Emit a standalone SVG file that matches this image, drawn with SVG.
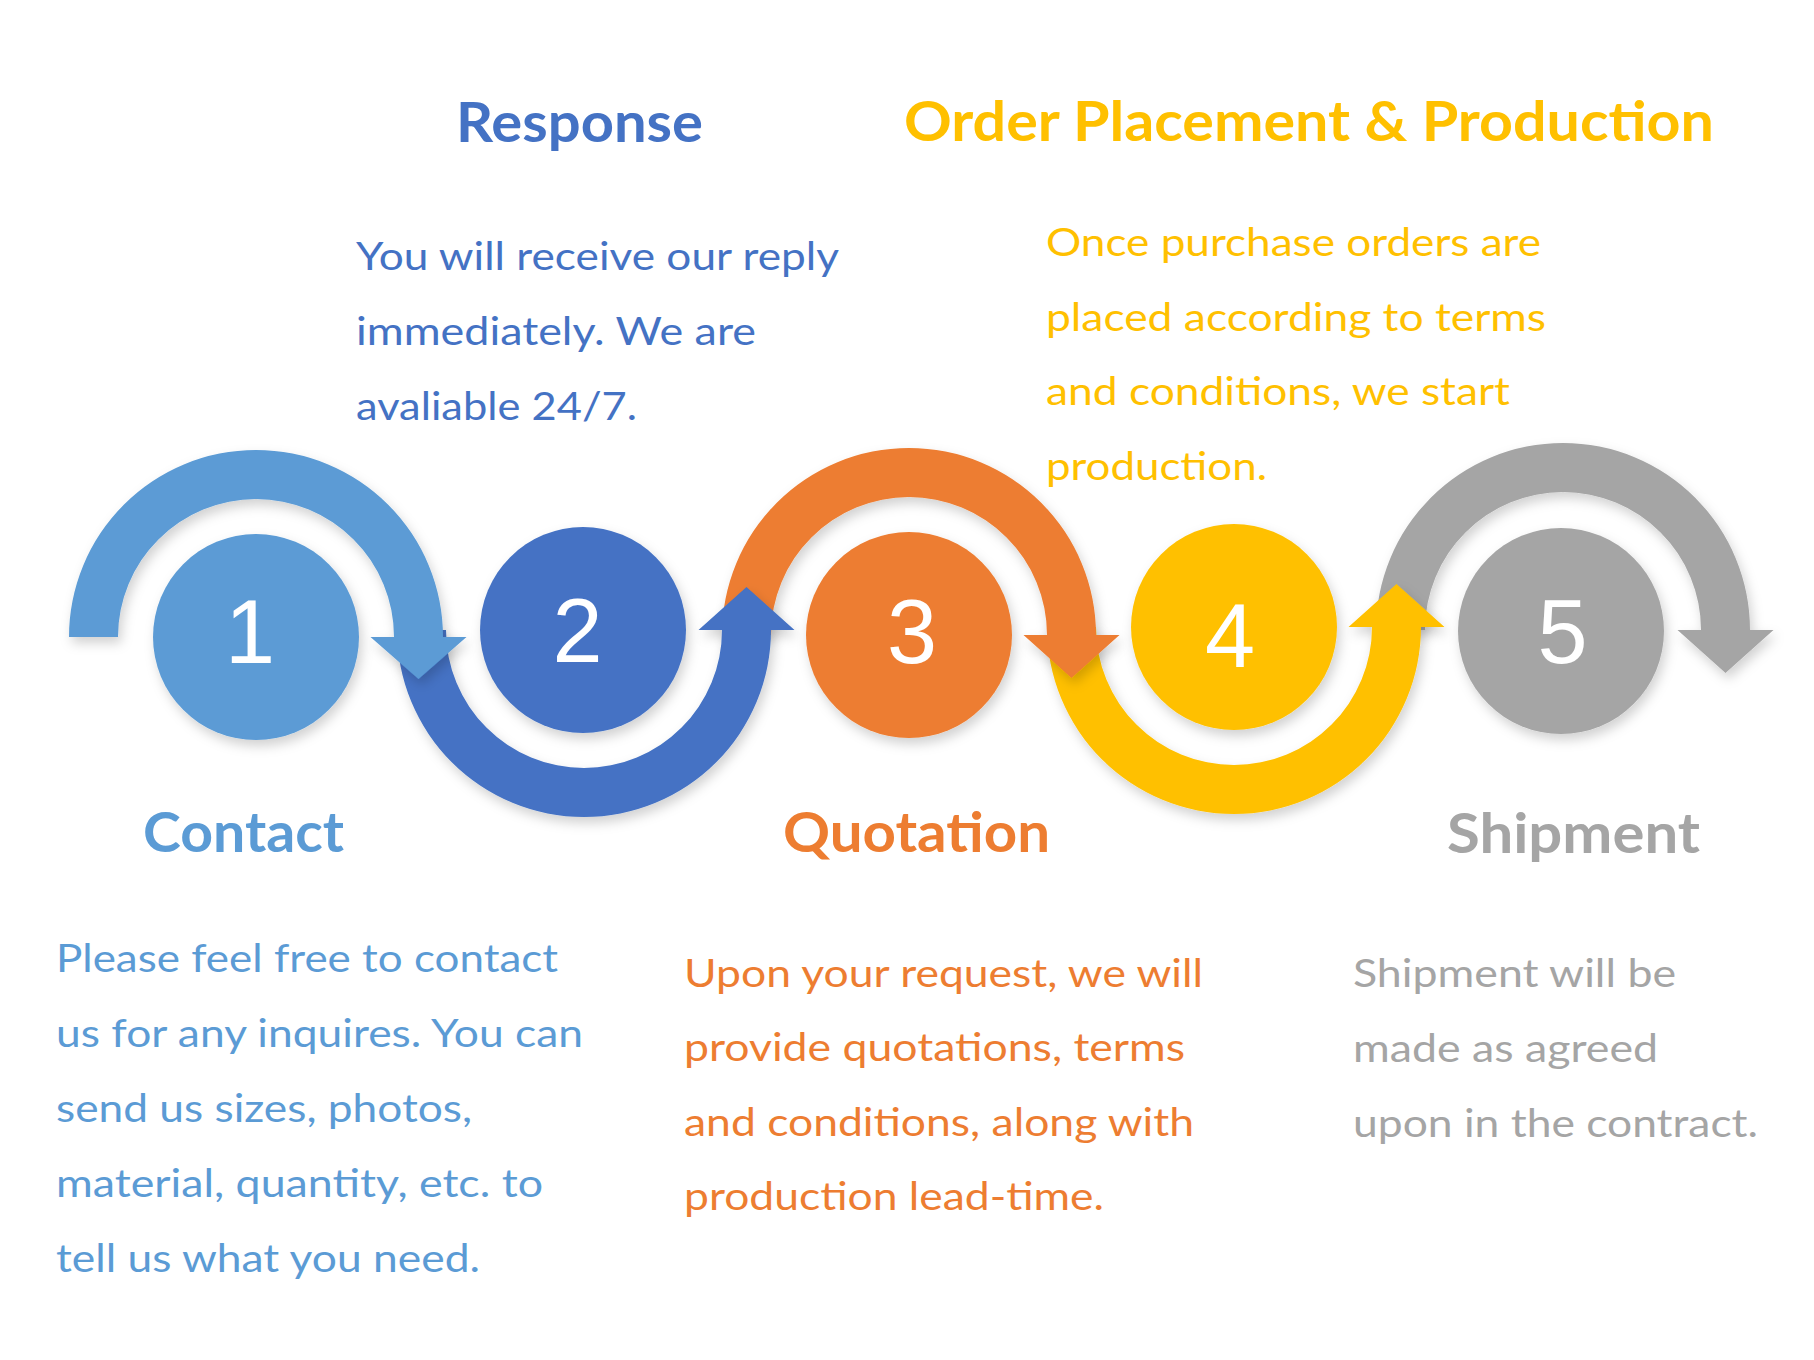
<svg xmlns="http://www.w3.org/2000/svg" width="1814" height="1360" viewBox="0 0 1814 1360">
  <defs>
    <filter id="shadow" x="-20%" y="-20%" width="140%" height="150%">
      <feDropShadow dx="3" dy="6" stdDeviation="6" flood-color="#000" flood-opacity="0.18"/>
    </filter>
  </defs>
  <style>
    .body { font-family: Lato, "Open Sans", "Liberation Sans", sans-serif; font-size: 39px; }
    .head { font-family: Lato, "Open Sans", "Liberation Sans", sans-serif; font-size: 56px; font-weight: 700; }
    .num { font-family: "Liberation Sans", Arial, sans-serif; font-size: 90px; fill: #ffffff; text-anchor: middle; }
    .c1 { fill: #5B9BD5; }
    .c2 { fill: #4472C4; }
    .c3 { fill: #ED7D31; }
    .c4 { fill: #FFC000; }
    .c5 { fill: #A5A5A5; }
    .sh { filter: url(#shadow); }
  </style>
  <rect x="0" y="0" width="1814" height="1360" fill="#ffffff"/>

  <g id="connectors">
    <path id="arrow-5" class="c5 sh" d="M 1376 630 A 187 187 0 0 1 1750 630 L 1773.5 630 L 1725.5 673 L 1677.5 630 L 1701 630 A 138 138 0 0 0 1425 630 Z"/>
    <path id="arrow-4" class="c4 sh" d="M 1047 627 A 187 187 0 0 0 1421 627 L 1444.5 627 L 1396.5 584 L 1348.5 627 L 1372 627 A 138 138 0 0 1 1096 627 Z"/>
    <path id="arrow-3" class="c3 sh" d="M 722 635 A 187 187 0 0 1 1096 635 L 1119.5 635 L 1071.5 678 L 1023.5 635 L 1047 635 A 138 138 0 0 0 771 635 Z"/>
    <path id="arrow-2" class="c2 sh" d="M 397 630 A 187 187 0 0 0 771 630 L 794.5 630 L 746.5 587 L 698.5 630 L 722 630 A 138 138 0 0 1 446 630 Z"/>
    <path id="arrow-1" class="c1 sh" d="M 69 637 A 187 187 0 0 1 443 637 L 466.5 637 L 418.5 679 L 370.5 637 L 394 637 A 138 138 0 0 0 118 637 Z"/>
  </g>

  <g id="node-1">
    <circle class="c1 sh" cx="256" cy="637" r="103"/>
    <text class="num" x="250" y="663">1</text>
    <text class="head c1" x="143" y="852" textLength="201" lengthAdjust="spacingAndGlyphs">Contact</text>
    <text class="body c1" x="56" y="972" textLength="502" lengthAdjust="spacingAndGlyphs">Please feel free to contact</text>
    <text class="body c1" x="56" y="1047" textLength="527" lengthAdjust="spacingAndGlyphs">us for any inquires. You can</text>
    <text class="body c1" x="56" y="1122" textLength="416" lengthAdjust="spacingAndGlyphs">send us sizes, photos,</text>
    <text class="body c1" x="56" y="1197" textLength="487" lengthAdjust="spacingAndGlyphs">material, quantity, etc. to</text>
    <text class="body c1" x="56" y="1272" textLength="424" lengthAdjust="spacingAndGlyphs">tell us what you need.</text>
  </g>

  <g id="node-2">
    <circle class="c2 sh" cx="583" cy="630" r="103"/>
    <text class="num" x="577.5" y="662">2</text>
    <text class="head c2" x="456" y="142" textLength="247" lengthAdjust="spacingAndGlyphs">Response</text>
    <text class="body c2" x="356" y="270" textLength="483" lengthAdjust="spacingAndGlyphs">You will receive our reply</text>
    <text class="body c2" x="356" y="345" textLength="400" lengthAdjust="spacingAndGlyphs">immediately. We are</text>
    <text class="body c2" x="356" y="420" textLength="281" lengthAdjust="spacingAndGlyphs">avaliable 24/7.</text>
  </g>

  <g id="node-3">
    <circle class="c3 sh" cx="909" cy="635" r="103"/>
    <text class="num" x="912" y="663">3</text>
    <text class="head c3" x="783" y="852" textLength="267" lengthAdjust="spacingAndGlyphs">Quotation</text>
    <text class="body c3" x="684" y="987" textLength="519" lengthAdjust="spacingAndGlyphs">Upon your request, we will</text>
    <text class="body c3" x="684" y="1061" textLength="501" lengthAdjust="spacingAndGlyphs">provide quotations, terms</text>
    <text class="body c3" x="684" y="1136" textLength="510" lengthAdjust="spacingAndGlyphs">and conditions, along with</text>
    <text class="body c3" x="684" y="1210" textLength="420" lengthAdjust="spacingAndGlyphs">production lead-time.</text>
  </g>

  <g id="node-4">
    <circle class="c4 sh" cx="1234" cy="627" r="103"/>
    <text class="num" x="1230" y="667">4</text>
    <text class="head c4" x="904" y="141" textLength="810" lengthAdjust="spacingAndGlyphs">Order Placement &amp; Production</text>
    <text class="body c4" x="1046" y="256" textLength="495" lengthAdjust="spacingAndGlyphs">Once purchase orders are</text>
    <text class="body c4" x="1046" y="331" textLength="500" lengthAdjust="spacingAndGlyphs">placed according to terms</text>
    <text class="body c4" x="1046" y="405" textLength="464" lengthAdjust="spacingAndGlyphs">and conditions, we start</text>
    <text class="body c4" x="1046" y="480" textLength="221" lengthAdjust="spacingAndGlyphs">production.</text>
  </g>

  <g id="node-5">
    <circle class="c5 sh" cx="1561" cy="631" r="103"/>
    <text class="num" x="1562.5" y="663">5</text>
    <text class="head c5" x="1447" y="853" textLength="253" lengthAdjust="spacingAndGlyphs">Shipment</text>
    <text class="body c5" x="1353" y="987" textLength="323" lengthAdjust="spacingAndGlyphs">Shipment will be</text>
    <text class="body c5" x="1353" y="1062" textLength="305" lengthAdjust="spacingAndGlyphs">made as agreed</text>
    <text class="body c5" x="1353" y="1137" textLength="405" lengthAdjust="spacingAndGlyphs">upon in the contract.</text>
  </g>
</svg>
